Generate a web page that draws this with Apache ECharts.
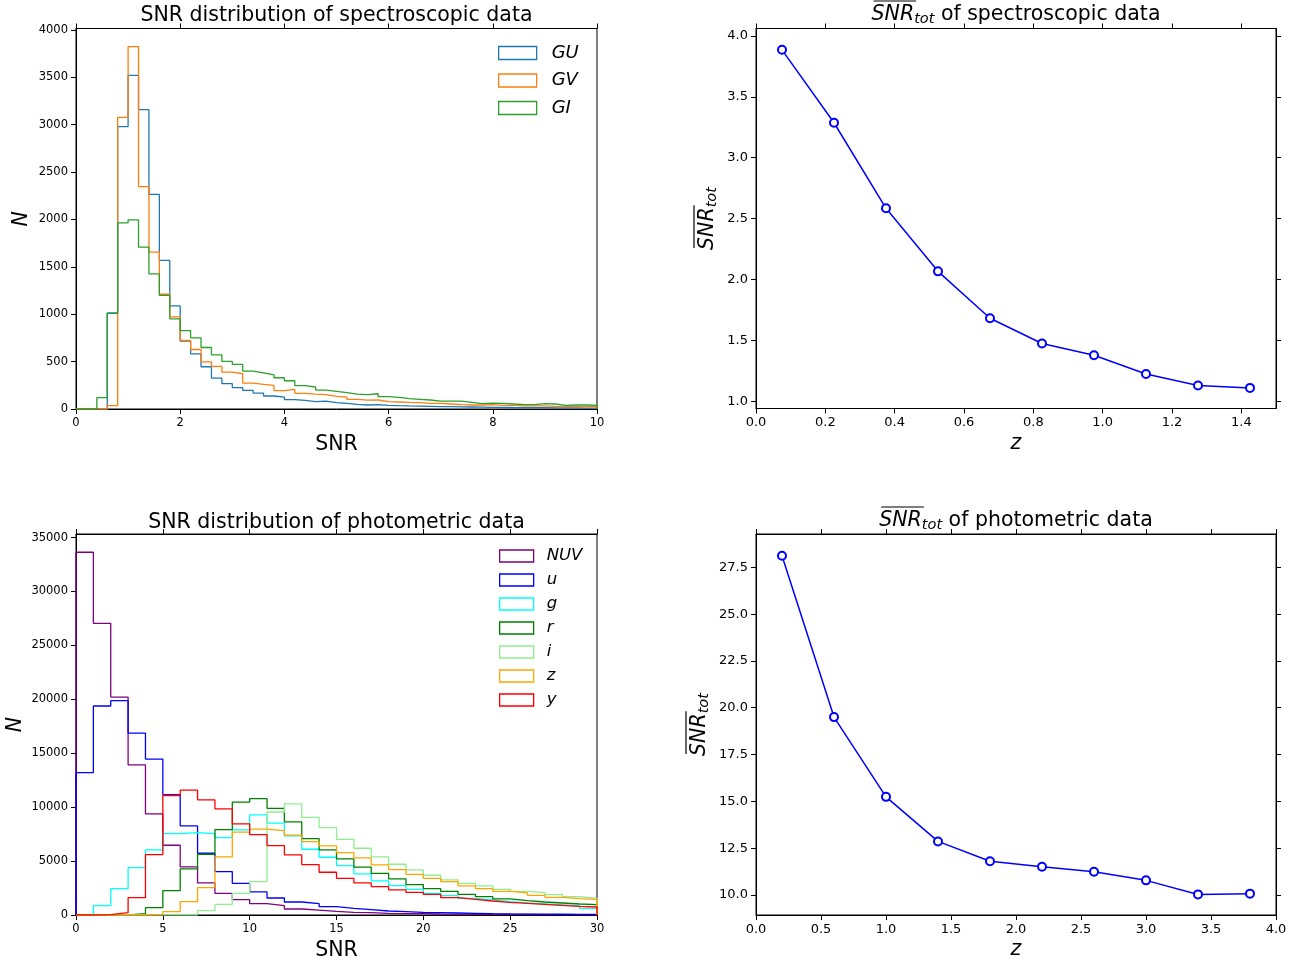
<!DOCTYPE html>
<html><head><meta charset="utf-8">
<script src="https://cdn.jsdelivr.net/npm/echarts@6/dist/echarts.min.js"></script>
<style>html,body{margin:0;padding:0;background:#fff}#c{width:1302px;height:964px}</style>
</head><body><div id="c"></div>
<script>
// ---------- data ----------
const specEdges = [0,0.2,0.4,0.6,0.8,1,1.2,1.4,1.6,1.8,2,2.2,2.4,2.6,2.8,3,3.2,3.4,3.6,3.8,4,4.2,4.4,4.6,4.8,5,5.2,5.4,5.6,5.8,6,6.2,6.4,6.6,6.8,7,7.2,7.4,7.6,7.8,8,8.2,8.4,8.6,8.8,9,9.2,9.4,9.6,9.8,10];
const GU = [0,0,0,1010,2980,3520,3160,2265,1568,1088, 716,582,446,326,267,225,196,168,137,126, 98,90,77,84,67,60,49,42,46,39, 35,32,30,28,25,25,22,21,20,18, 18,16,15,14,14,12,12,11,10,10];
const GV = [0,0,0,35,3077,3824,2347,1656,1211,972, 723,628,498,449,389,372,274,260,249,193, 207,165,156,152,134,125,102,94,95,77, 74,70,67,60,60,53,46,42,42,46, 39,39,32,32,32,28,28,25,25,28];
const GI = [0,0,119,1014,1965,1996,1709,1425,1200,951, 828,751,649,572,502,470,400,382,361,330, 298,246,232,200,186,172,158,151,161,130, 123,109,102,95,84,84,84,70,56,63, 60,53,46,46,56,53,39,42,42,39];

const photEdges = [0,1,2,3,4,5,6,7,8,9,10,11,12,13,14,15,16,17,18,19,20,21,22,23,24,25,26,27,28,29,30];
const NUV = [33640,27050,20210,13928,9378,6469,4457,2971,2012,1424,1052,867,557,450,340,248,217,155,124,124,93,80,70,60,50,45,40,35,30,25];
const bandU = [13210,19380,19870,16870,14455,11170,8264,5726,4023,2940,2136,1578,1207,1052,774,619,495,372,310,248,217,186,155,124,100,90,80,70,60,50];
const bandG = [0,867,2445,4395,6035,7552,7645,7552,7180,7892,9285,8511,7335,6097,5354,4581,3807,3157,2723,2383,2012,1795,1547,1393,1238,1114,1021,928,836,619];
const bandR = [0,0,0,124,681,2259,4271,5633,7923,10460,10800,9890,8635,7080,6035,5200,4440,3869,3343,2816,2445,2197,1919,1702,1486,1331,1207,1114,1021,960];
const bandI = [0,0,0,0,0,0,0,402,990,2012,3095,9550,10306,9050,8109,7010,6190,5385,4704,4178,3684,3250,2940,2693,2383,2197,2074,1888,1702,1547];
const bandZ = [0,0,0,0,60,310,1238,2538,5385,7676,7954,7830,7400,6809,6407,5788,5292,4643,4209,3776,3405,3095,2693,2445,2197,2043,1826,1640,1517,1455];
const bandY = [0,40,217,1610,5603,11080,11575,10678,9842,8450,7458,6437,5571,4673,3962,3405,2971,2631,2321,2105,1919,1610,1455,1300,1176,1083,990,897,805,743];

const zSpec = [0.075,0.225,0.375,0.525,0.675,0.825,0.975,1.125,1.275,1.425];
const snrSpec = [3.885,3.287,2.585,2.068,1.683,1.476,1.380,1.226,1.131,1.112];
const zPhot = [0.2,0.6,1.0,1.4,1.8,2.2,2.6,3.0,3.4,3.8];
const snrPhot = [28.12,19.50,15.24,12.86,11.80,11.51,11.24,10.78,10.03,10.07];

const specXTicks = [0,2,4,6,8,10];
const specYTicks = [0,500,1000,1500,2000,2500,3000,3500,4000];
const photXTicks = [0,5,10,15,20,25,30];
const photYTicks = [0,5000,10000,15000,20000,25000,30000,35000];
const zSpecTicks = [0,0.2,0.4,0.6,0.8,1.0,1.2,1.4];
const snrSpecTicks = [1.0,1.5,2.0,2.5,3.0,3.5,4.0];
const zPhotTicks = [0,0.5,1.0,1.5,2.0,2.5,3.0,3.5,4.0];
const snrPhotTicks = [10,12.5,15,17.5,20,22.5,25,27.5];

// ---------- helpers ----------
const FF = 'DejaVu Sans';
const MAIN_FS = 20.5, SUB_FS = 14.5;
function stepData(edges, counts) {
  const d = [[edges[0], 0]];
  for (let i = 0; i < counts.length; i++) d.push([edges[i], counts[i]]);
  d.push([edges[counts.length], counts[counts.length - 1]]);
  d.push([edges[counts.length], 0]);
  return d;
}
function axis(o) {
  const a = {
    type: 'value', gridIndex: o.grid, position: o.pos, min: o.min, max: o.max,
    axisLine: {show: true, onZero: false, lineStyle: {color: '#000', width: 1}},
    axisTick: {show: o.ticks !== false, inside: false, length: 5, lineStyle: {color: '#000', width: 1}, customValues: o.tickVals},
    axisLabel: {show: !!o.labels, customValues: o.tickVals, color: '#000', fontFamily: FF, fontSize: o.fs || 11.5, margin: o.margin || 8,
      formatter: o.fmt || (v => String(v))},
    splitLine: {show: false}
  };
  if (o.name !== undefined) {
    a.name = o.name; a.nameLocation = 'middle'; a.nameGap = o.nameGap; a.nameRotate = o.nameRotate || 0;
    a.nameTextStyle = Object.assign({fontFamily: FF, fontSize: MAIN_FS, color: '#000'}, o.nameStyle || {});
  }
  return a;
}
const fx1 = v => v.toFixed(1);
function hist(name, edges, counts, color, xi, yi) {
  return {type: 'line', name, xAxisIndex: xi, yAxisIndex: yi, data: stepData(edges, counts), step: 'end',
    symbol: 'none', lineStyle: {color, width: 1.3}, itemStyle: {color}, animation: false, silent: true};
}
function leg(name, color) {
  return {name, itemStyle: {color: 'rgba(0,0,0,0)', borderColor: color, borderWidth: 1.3}};
}
// text measurement for the overline of SNR
const mctx = document.createElement('canvas').getContext('2d');
function tw(font, s) { mctx.font = font; return mctx.measureText(s).width; }
// "overline(SNR)_tot + rest" label drawn as a group (optionally rotated)
function ovLabel(cx, cy, rot, rest) {
  const wO = tw('italic ' + MAIN_FS + 'px "' + FF + '"', 'SNR');
  const wS = tw('italic ' + SUB_FS + 'px "' + FF + '"', 'tot');
  const wR = rest ? tw(MAIN_FS + 'px "' + FF + '"', rest) : 0;
  const W = wO + wS + wR;
  const left = -W / 2;
  const yBar = -14;
  return {
    type: 'group', x: cx, y: cy, rotation: rot, silent: true,
    children: [
      {type: 'text', x: 0, y: 0, silent: true, style: {
        text: '{o|SNR}{s|tot}' + (rest ? '{n|' + rest + '}' : ''), align: 'center', verticalAlign: 'middle',
        rich: {
          o: {fontFamily: FF, fontSize: MAIN_FS, fontStyle: 'italic', fill: '#000', lineHeight: 24},
          s: {fontFamily: FF, fontSize: SUB_FS, fontStyle: 'italic', fill: '#000', lineHeight: 12, verticalAlign: 'bottom'},
          n: {fontFamily: FF, fontSize: MAIN_FS, fill: '#000', lineHeight: 24}
        }}},
      {type: 'line', silent: true, shape: {x1: left + 2, y1: yBar, x2: left + wO + 2, y2: yBar}, style: {stroke: '#000', lineWidth: 1.2}}
    ]
  };
}

const grids = [
  {left: 76, top: 28.5, width: 521, height: 380.5, show: true, borderColor: '#000', borderWidth: 1},
  {left: 756, top: 28.5, width: 520, height: 380, show: true, borderColor: '#000', borderWidth: 1},
  {left: 76, top: 534, width: 521, height: 381, show: true, borderColor: '#000', borderWidth: 1},
  {left: 756, top: 534, width: 520, height: 381, show: true, borderColor: '#000', borderWidth: 1}
];

const xAxes = [
  axis({grid: 0, pos: 'bottom', min: 0, max: 10, tickVals: specXTicks, labels: true, name: 'SNR', nameGap: 25}),
  axis({grid: 0, pos: 'top', min: 0, max: 10, tickVals: specXTicks}),
  axis({grid: 1, pos: 'bottom', min: 0, max: 1.5, tickVals: zSpecTicks, labels: true, fs: 13, fmt: fx1, margin: 8,
        name: 'z', nameGap: 25, nameStyle: {fontStyle: 'italic'}}),
  axis({grid: 1, pos: 'top', min: 0, max: 1.5, tickVals: zSpecTicks}),
  axis({grid: 2, pos: 'bottom', min: 0, max: 30, tickVals: photXTicks, labels: true, name: 'SNR', nameGap: 25}),
  axis({grid: 2, pos: 'top', min: 0, max: 30, tickVals: photXTicks}),
  axis({grid: 3, pos: 'bottom', min: 0, max: 4, tickVals: zPhotTicks, labels: true, fs: 13, fmt: fx1, margin: 8,
        name: 'z', nameGap: 25, nameStyle: {fontStyle: 'italic'}}),
  axis({grid: 3, pos: 'top', min: 0, max: 4, tickVals: zPhotTicks})
];
const yAxes = [
  axis({grid: 0, pos: 'left', min: 0, max: 4015, tickVals: specYTicks, labels: true, name: 'N', nameGap: 44, nameRotate: 90,
        nameStyle: {fontStyle: 'italic'}}),
  axis({grid: 1, pos: 'left', min: 0.943, max: 4.06, tickVals: snrSpecTicks, labels: true, fs: 13, fmt: fx1}),
  axis({grid: 1, pos: 'right', min: 0.943, max: 4.06, tickVals: snrSpecTicks}),
  axis({grid: 2, pos: 'left', min: 0, max: 35330, tickVals: photYTicks, labels: true, name: 'N', nameGap: 50, nameRotate: 90,
        nameStyle: {fontStyle: 'italic'}}),
  axis({grid: 3, pos: 'left', min: 8.93, max: 29.28, tickVals: snrPhotTicks, labels: true, fs: 13, fmt: fx1}),
  axis({grid: 3, pos: 'right', min: 8.93, max: 29.28, tickVals: snrPhotTicks})
];

const C = {GU: '#1f77b4', GV: '#ff7f0e', GI: '#2ca02c', NUV: '#800080', u: '#0000ff', g: '#00ffff', r: '#008000', i: '#90ee90', z: '#ffa500', y: '#ff0000'};

const series = [
  hist('GU', specEdges, GU, C.GU, 0, 0),
  hist('GV', specEdges, GV, C.GV, 0, 0),
  hist('GI', specEdges, GI, C.GI, 0, 0),
  hist('NUV', photEdges, NUV, C.NUV, 4, 3),
  hist('u', photEdges, bandU, C.u, 4, 3),
  hist('g', photEdges, bandG, C.g, 4, 3),
  hist('r', photEdges, bandR, C.r, 4, 3),
  hist('i', photEdges, bandI, C.i, 4, 3),
  hist('z', photEdges, bandZ, C.z, 4, 3),
  hist('y', photEdges, bandY, C.y, 4, 3),
  {type: 'line', xAxisIndex: 2, yAxisIndex: 1, data: zSpec.map((z, k) => [z, snrSpec[k]]), symbol: 'emptyCircle', symbolSize: 8,
   lineStyle: {color: '#0000ff', width: 1.5}, itemStyle: {color: '#0000ff', borderWidth: 1}, animation: false, silent: true},
  {type: 'line', xAxisIndex: 6, yAxisIndex: 4, data: zPhot.map((z, k) => [z, snrPhot[k]]), symbol: 'emptyCircle', symbolSize: 8,
   lineStyle: {color: '#0000ff', width: 1.5}, itemStyle: {color: '#0000ff', borderWidth: 1}, animation: false, silent: true}
];

const titleBase = {textAlign: 'center', padding: 0, textStyle: {fontFamily: FF, fontSize: MAIN_FS, fontWeight: 'normal', color: '#000'}};
const titles = [
  Object.assign({}, titleBase, {text: 'SNR distribution of spectroscopic data', left: 336.5, top: 5}),
  Object.assign({}, titleBase, {text: 'SNR distribution of photometric data', left: 336.5, top: 512})
];

const legends = [
  {left: 498, top: 44, orient: 'vertical', padding: 0, itemWidth: 38, itemHeight: 13, itemGap: 9.5, icon: 'rect',
   textStyle: {fontFamily: FF, fontSize: 18, fontStyle: 'italic', color: '#000', padding: [0, 0, 0, 10]},
   data: [leg('GU', C.GU), leg('GV', C.GV), leg('GI', C.GI)], selectedMode: false},
  {left: 499, top: 547.5, orient: 'vertical', padding: 0, itemWidth: 34, itemHeight: 12, itemGap: 7.0, icon: 'rect',
   textStyle: {fontFamily: FF, fontSize: 16.5, fontStyle: 'italic', color: '#000', padding: [0, 0, 0, 8]},
   data: [leg('NUV', C.NUV), leg('u', C.u), leg('g', C.g), leg('r', C.r), leg('i', C.i), leg('z', C.z), leg('y', C.y)], selectedMode: false}
];

const graphic = [
  ovLabel(1016, 15, 0, ' of spectroscopic data'),
  ovLabel(1016, 521, 0, ' of photometric data'),
  ovLabel(708, 218.5, Math.PI / 2, ''),
  ovLabel(700, 724.5, Math.PI / 2, '')
];

const chart = echarts.init(document.getElementById('c'), null, {renderer: 'canvas'});
chart.setOption({
  animation: false, backgroundColor: '#fff', textStyle: {fontFamily: FF},
  title: titles, legend: legends, grid: grids, xAxis: xAxes, yAxis: yAxes, series, graphic
});
</script></body></html>
